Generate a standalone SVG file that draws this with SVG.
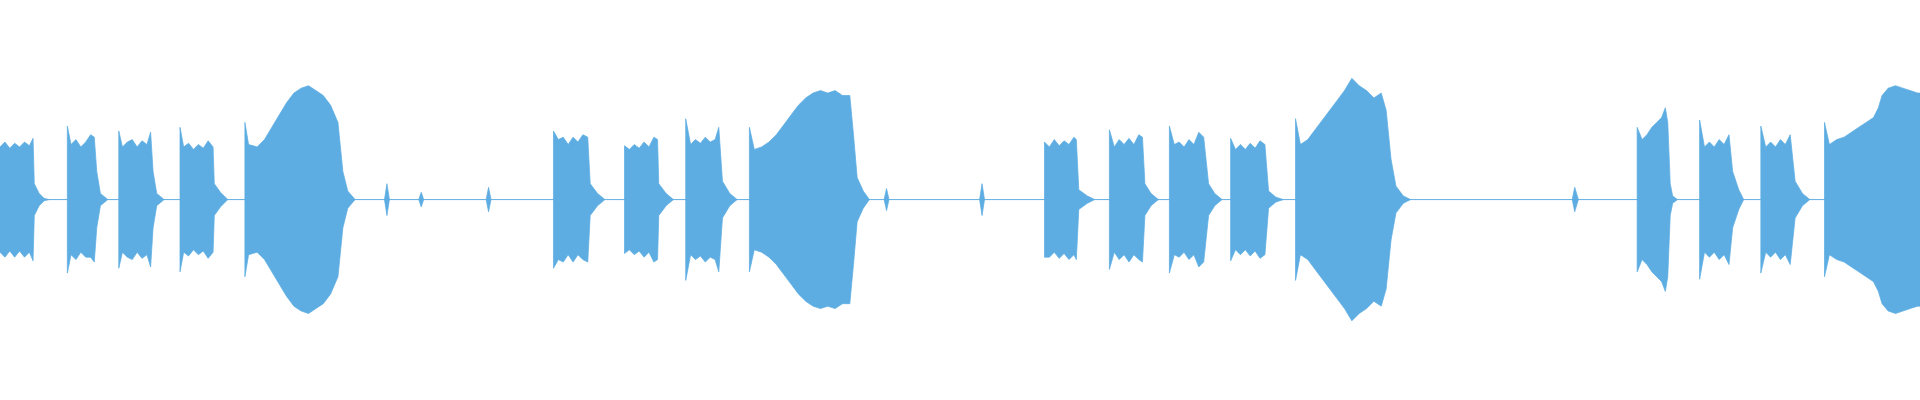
<svg xmlns="http://www.w3.org/2000/svg" width="1920" height="400" viewBox="0 0 1920 400">
<style>.w{fill:#5dade2;stroke:#5dade2;stroke-width:0.6}.c{stroke:#5dade2;stroke-width:0.8}</style>
<rect width="1920" height="400" fill="#fff"/>
<g transform="scale(1.2245)">
<line class="c" x1="0" y1="163" x2="1568" y2="163"/>
<g id="b1"><path class="w" d="M0,120 L4,116 8,121 12,117 16,120 20,116 24,119 27,113 28,150 32,158 36,162 40,163 36,164 32,168 28,176 27,213 24,206 20,210 16,205 12,210 8,205 4,210 0,206Z"/></g>
<g id="b2"><path class="w" d="M55,103 L58,118 62,114 66,120 70,116 74,110 77,112 79,140 82,158 88,163 82,168 79,186 77,214 74,210 70,210 66,206 62,212 58,208 55,223Z"/></g>
<g id="b3"><path class="w" d="M97,107 L100,120 104,116 108,114 112,120 116,115 120,118 123,108 125,140 128,158 134,163 128,168 125,186 123,218 120,208 116,211 112,206 108,212 104,210 100,206 97,219Z"/></g>
<g id="b4"><path class="w" d="M147,104 L150,120 154,117 158,122 162,118 166,121 170,115 174,120 175,150 180,157 186,163 180,169 175,176 174,206 170,211 166,205 162,208 158,204 154,209 150,206 147,222Z"/></g>
<g id="b5"><path class="w" d="M200,100 L203,118 210,120 216,114 222,104 228,94 234,84 240,76 246,72 252,70 258,74 264,78 270,86 276,100 280,140 284,156 290,163 284,170 280,186 276,226 270,240 264,248 258,252 252,256 246,254 240,250 234,242 228,232 222,222 216,212 210,206 203,208 200,226Z"/></g>
<g id="t1"><path class="w" d="M316,150 L318,163 316,176 314,163Z M344,157 L346,163 344,169 342,163Z M399,153 L401,163 399,173 397,163Z"/></g>
<g id="b7"><path class="w" d="M452,107 L456,114 460,112 464,118 468,112 472,116 476,110 480,112 482,150 488,158 494,163 488,168 482,176 480,214 476,212 472,208 468,214 464,208 460,214 456,212 452,219Z"/></g>
<g id="b8"><path class="w" d="M510,119 L514,122 518,118 522,121 526,116 530,120 534,112 537,114 538,150 544,158 550,163 544,168 538,176 537,212 534,214 530,206 526,210 522,205 518,208 514,204 510,207Z"/></g>
<g id="b9"><path class="w" d="M560,97 L564,118 568,114 572,117 576,112 580,116 584,114 587,104 590,148 596,158 602,163 596,168 590,178 587,222 584,212 580,210 576,214 572,209 568,212 564,208 560,229Z"/></g>
<g id="b10"><path class="w" d="M612,104 L616,122 622,120 628,116 634,110 640,102 646,94 652,86 658,80 664,76 670,74 676,76 682,74 688,78 694,78 697,110 700,145 705,156 710,163 705,170 700,181 697,216 694,248 688,248 682,252 676,250 670,252 664,250 658,246 652,240 646,232 640,224 634,216 628,210 622,206 616,204 612,222Z"/></g>
<g id="t2"><path class="w" d="M724,154 L726,163 724,172 722,163Z M802,150 L804,163 802,176 800,163Z"/></g>
<g id="b12"><path class="w" d="M853,116 L857,120 861,114 865,119 869,115 873,118 877,112 879,114 881,155 888,160 894,163 888,166 881,171 879,212 877,208 873,212 869,207 865,211 861,206 857,210 853,210Z"/></g>
<g id="b13"><path class="w" d="M906,106 L910,120 914,114 918,118 922,113 926,118 930,110 933,112 935,150 940,158 946,163 940,168 935,176 933,214 930,212 926,208 922,214 918,208 914,212 910,206 906,220Z"/></g>
<g id="b14"><path class="w" d="M955,103 L959,118 963,116 967,120 971,114 975,118 979,108 983,112 987,150 992,158 998,163 992,168 987,176 983,214 979,218 975,208 971,212 967,206 963,210 959,208 955,223Z"/></g>
<g id="b15"><path class="w" d="M1005,113 L1009,122 1013,118 1017,122 1021,117 1025,121 1029,115 1033,118 1036,156 1042,161 1048,163 1042,165 1036,170 1033,208 1029,211 1025,205 1021,209 1017,204 1013,208 1009,204 1005,213Z"/></g>
<g id="b16"><path class="w" d="M1058,97 L1062,118 1068,114 1074,106 1080,98 1086,90 1092,82 1098,74 1104,64 1110,70 1116,74 1122,80 1128,76 1132,90 1136,130 1140,152 1146,160 1152,163 1146,166 1140,174 1136,196 1132,236 1128,250 1122,246 1116,252 1110,256 1104,262 1098,252 1092,244 1086,236 1080,228 1074,220 1068,212 1062,208 1058,229Z"/></g>
<g id="t3"><path class="w" d="M1286,153 L1289,163 1286,173 1284,163Z"/></g>
<g id="b18"><path class="w" d="M1337,104 L1341,114 1345,110 1349,104 1353,100 1357,96 1360,88 1362,100 1364,150 1366,160 1370,163 1366,166 1364,176 1362,226 1360,238 1357,230 1353,226 1349,222 1345,216 1341,212 1337,222Z"/></g>
<g id="b19"><path class="w" d="M1388,98 L1392,120 1396,116 1400,120 1404,114 1408,118 1412,110 1415,140 1420,155 1424,163 1420,171 1415,186 1412,216 1408,208 1404,212 1400,206 1396,210 1392,206 1388,228Z"/></g>
<g id="b20"><path class="w" d="M1438,103 L1442,120 1446,116 1450,120 1454,114 1458,118 1462,110 1466,148 1472,158 1478,163 1472,168 1466,178 1462,216 1458,208 1454,212 1450,206 1446,210 1442,206 1438,223Z"/></g>
<g id="b21"><path class="w" d="M1490,100 L1494,118 1500,114 1506,112 1512,108 1518,104 1524,100 1530,96 1534,88 1537,78 1542,72 1548,70 1554,72 1560,74 1566,76 1568,76 L1568,250 1566,250 1560,252 1554,254 1548,256 1542,254 1537,248 1534,238 1530,230 1524,226 1518,222 1512,218 1506,214 1500,212 1494,208 1490,226Z"/></g>
</g>
</svg>
